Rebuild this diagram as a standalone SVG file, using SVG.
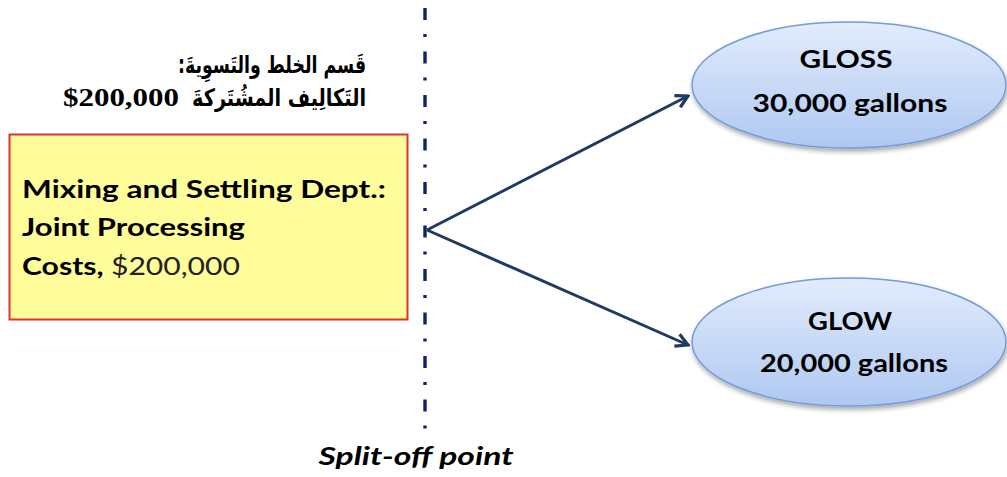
<svg xmlns="http://www.w3.org/2000/svg" width="1007" height="477" viewBox="0 0 1007 477">
  <defs>
    <linearGradient id="ovalFill" x1="0" y1="0" x2="0" y2="1">
      <stop offset="0" stop-color="#E2ECFC"/>
      <stop offset="1" stop-color="#AFC8F1"/>
    </linearGradient>
    <filter id="shadow" x="-10%" y="-10%" width="125%" height="130%">
      <feGaussianBlur in="SourceAlpha" stdDeviation="2.5"/>
      <feOffset dx="1" dy="3" result="b"/>
      <feComponentTransfer><feFuncA type="linear" slope="0.35"/></feComponentTransfer>
      <feMerge><feMergeNode/><feMergeNode in="SourceGraphic"/></feMerge>
    </filter>
    <marker id="chevron" viewBox="0 0 16 16" refX="14" refY="8" markerWidth="16" markerHeight="16" markerUnits="userSpaceOnUse" orient="auto">
      <path d="M2 1.5 L14 8 L2 14.5" fill="none" stroke="#1F3A62" stroke-width="3.2" stroke-linejoin="miter"/>
    </marker>
  </defs>
  <style>
    .lbl { font-family: Lato, "Open Sans", sans-serif; font-weight: bold; fill: #000; }
    .ar { font-family: "DejaVu Sans", sans-serif; font-weight: bold; fill: #000; }
    .edge { fill: none; stroke: #1F3A62; stroke-width: 3; marker-end: url(#chevron); }
    .oval { fill: url(#ovalFill); stroke: #729CDA; stroke-width: 1.5; filter: url(#shadow); }
  </style>
  <rect width="1007" height="477" fill="#FFFFFF"/>

  <!-- split-off boundary -->
  <g id="split-line">
    <line x1="425" y1="8" x2="425" y2="430" stroke="#0E2565" stroke-width="3.4" stroke-dasharray="12 14 3 14.5"/>
    <text class="lbl" x="416" y="465" font-size="25" font-style="italic" text-anchor="middle" textLength="195" lengthAdjust="spacingAndGlyphs">Split-off  point</text>
  </g>

  <!-- Arabic heading -->
  <g id="arabic-heading">
    <text class="ar" x="366" y="73" font-size="24" direction="rtl" text-anchor="start" textLength="188" lengthAdjust="spacingAndGlyphs">قَسم الخلط والتَسوِيةَ:</text>
    <text class="ar" x="366" y="106" font-size="24" direction="rtl" text-anchor="start" textLength="174" lengthAdjust="spacingAndGlyphs">التَكالِيف المشُتَركةَ</text>
    <text x="63" y="106" font-family="'Liberation Serif', serif" font-weight="bold" font-size="25" textLength="116" lengthAdjust="spacingAndGlyphs">$200,000</text>
  </g>

  <!-- joint process department -->
  <g id="dept">
    <rect x="9.5" y="134.5" width="398" height="185" fill="#FFFC9A" stroke="#E0312F" stroke-width="2"/>
    <text class="lbl" x="22" y="198" font-size="25" textLength="364" lengthAdjust="spacingAndGlyphs">Mixing and Settling Dept.:</text>
    <text class="lbl" x="22" y="236" font-size="25" textLength="223" lengthAdjust="spacingAndGlyphs">Joint Processing</text>
    <text class="lbl" x="22" y="275" font-size="25" textLength="218" lengthAdjust="spacingAndGlyphs">Costs, <tspan font-weight="normal" fill="#222">$200,000</tspan></text>
  </g>

  <!-- connectors -->
  <g id="connectors">
    <path class="edge" d="M427 230 L688 96"/>
    <path class="edge" d="M427 230 L688 345"/>
  </g>

  <g id="gloss">
    <ellipse class="oval" cx="849" cy="85" rx="157" ry="63"/>
    <text class="lbl" x="846" y="68" font-size="24" text-anchor="middle" textLength="93" lengthAdjust="spacingAndGlyphs">GLOSS</text>
    <text class="lbl" x="850" y="112" font-size="24" text-anchor="middle" textLength="195" lengthAdjust="spacingAndGlyphs">30,000 gallons</text>
  </g>

  <g id="glow">
    <ellipse class="oval" cx="849" cy="342" rx="157" ry="64"/>
    <text class="lbl" x="850" y="330" font-size="24" text-anchor="middle" textLength="84" lengthAdjust="spacingAndGlyphs">GLOW</text>
    <text class="lbl" x="854" y="372" font-size="24" text-anchor="middle" textLength="188" lengthAdjust="spacingAndGlyphs">20,000 gallons</text>
  </g>
</svg>
